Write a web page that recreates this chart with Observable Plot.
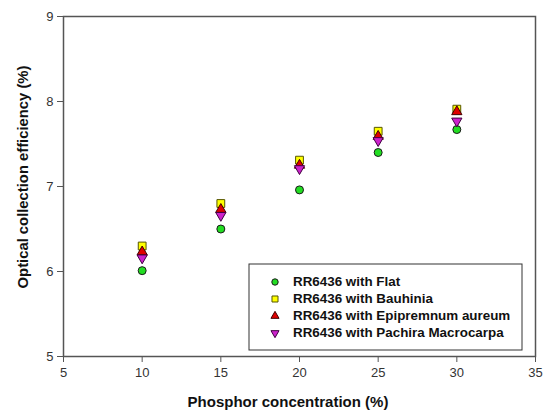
<!DOCTYPE html>
<html>
<head>
<meta charset="utf-8">
<script src="https://cdn.jsdelivr.net/npm/d3@7"></script>
<script src="https://cdn.jsdelivr.net/npm/@observablehq/plot@0.6"></script>
<style>
  html, body { margin: 0; padding: 0; background: #fff; }
  #chart svg { display: block; }
</style>
</head>
<body>
<div id="chart"></div>
<script>
const concentration = [10, 15, 20, 25, 30];
const flat = [6.01, 6.50, 6.96, 7.40, 7.67];
const bauhinia = [6.30, 6.80, 7.31, 7.65, 7.91];
const epipremnum = [6.23, 6.73, 7.25, 7.59, 7.88];
const pachira = [6.16, 6.66, 7.21, 7.54, 7.77];

const seriesNames = [
  "RR6436 with Flat",
  "RR6436 with Bauhinia",
  "RR6436 with Epipremnum aureum",
  "RR6436 with Pachira Macrocarpa"
];
const xTicks = [5, 10, 15, 20, 25, 30, 35];
const yTicks = [5, 6, 7, 8, 9];

const styles = [
  {symbol: "circle", fill: "#22dd22", stroke: "#1a1a1a", r: 4, rotate: 0, lr: 3.2},
  {symbol: "square", fill: "#ffff00", stroke: "#555500", r: 4.4, rotate: 0, lr: 3.4},
  {symbol: "triangle", fill: "#e00000", stroke: "#400000", r: 3.8, rotate: 0, lr: 3.0},
  {symbol: "triangle", fill: "#cc22cc", stroke: "#400040", r: 3.8, rotate: 180, lr: 3.0}
];
const allSeries = [flat, bauhinia, epipremnum, pachira];

const font = "Arial, 'Liberation Sans', sans-serif";

const dotMarks = allSeries.map((vals, i) => {
  const data = concentration.map((c, j) => ({x: c, y: vals[j]}));
  const s = styles[i];
  return Plot.dot(data, {x: "x", y: "y", symbol: () => s.symbol, fill: s.fill, stroke: s.stroke, strokeWidth: 1, r: s.r, rotate: s.rotate});
});

const plot = Plot.plot({
  width: 543,
  height: 412,
  marginLeft: 63,
  marginRight: 8,
  marginTop: 16,
  marginBottom: 56,
  style: {fontFamily: font, fontSize: "13px", color: "#333", background: "#fff"},
  x: {domain: [5, 35]},
  y: {domain: [5, 9]},
  symbol: {type: "identity"},
  marks: [
    Plot.frame({stroke: "#555", strokeWidth: 1.5}),
    Plot.axisX({ticks: xTicks, tickFormat: "d", tickSize: 6, tickPadding: 5, label: null, stroke: "#555", fill: "#333", fontSize: 13}),
    Plot.axisY({ticks: yTicks, tickFormat: "d", tickSize: 6, tickPadding: 4, label: null, stroke: "#555", fill: "#333", fontSize: 13}),
    ...dotMarks
  ]
});

document.getElementById("chart").appendChild(plot);

const svg = d3.select(plot);
// axis titles
svg.append("text")
  .attr("x", 288).attr("y", 403)
  .attr("text-anchor", "middle").attr("dominant-baseline", "middle")
  .attr("font-family", font).attr("font-size", 15).attr("font-weight", "bold").attr("fill", "#111")
  .text("Phosphor concentration (%)");
svg.append("text")
  .attr("transform", "translate(24,177) rotate(-90)")
  .attr("text-anchor", "middle").attr("dominant-baseline", "middle")
  .attr("font-family", font).attr("font-size", 14.8).attr("font-weight", "bold").attr("fill", "#111")
  .text("Optical collection efficiency (%)");

// legend
const lg = svg.append("g");
lg.append("rect").attr("x", 249).attr("y", 264).attr("width", 273).attr("height", 86)
  .attr("fill", "#fff").attr("stroke", "#333").attr("stroke-width", 1);
const symMap = {circle: d3.symbolCircle, square: d3.symbolSquare, triangle: d3.symbolTriangle};
seriesNames.forEach((name, i) => {
  const s = styles[i];
  const cy = 282 + i * 17;
  lg.append("path")
    .attr("d", d3.symbol(symMap[s.symbol], Math.PI * s.lr * s.lr)())
    .attr("transform", `translate(275,${cy}) rotate(${s.rotate})`)
    .attr("fill", s.fill).attr("stroke", s.stroke).attr("stroke-width", 1);
  lg.append("text").attr("x", 293).attr("y", cy)
    .attr("text-anchor", "start")
    .attr("dominant-baseline", "middle")
    .attr("font-family", font).attr("font-size", 13.4).attr("font-weight", "bold").attr("fill", "#111")
    .text(name);
});
</script>
</body>
</html>
